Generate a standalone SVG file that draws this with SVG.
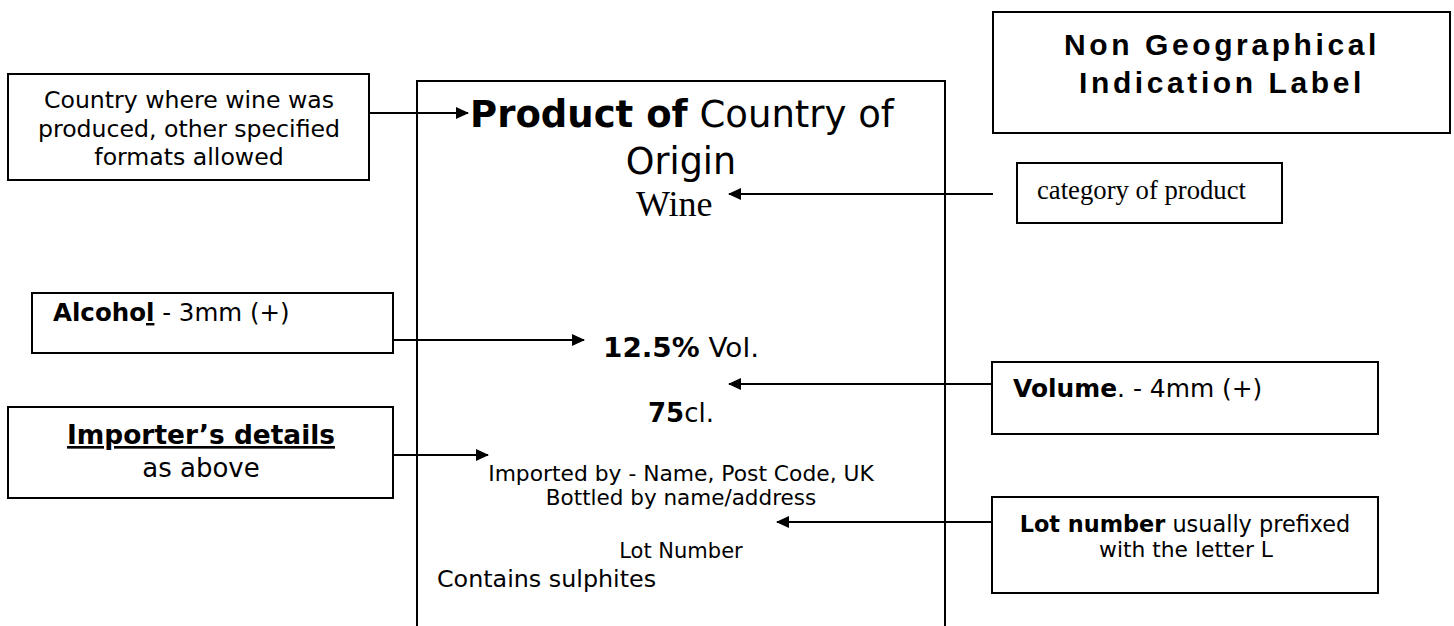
<svg xmlns="http://www.w3.org/2000/svg" width="1454" height="626" viewBox="0 0 1454 626">
<defs>
<marker id="ah" markerUnits="userSpaceOnUse" markerWidth="13" markerHeight="12" refX="12" refY="6" orient="auto">
<path d="M0,0 L13,6 L0,12 z" fill="#000"/>
</marker>
<style>
.box{fill:#fff;stroke:#000;stroke-width:2}
.conn{stroke:#000;stroke-width:2;fill:none;marker-end:url(#ah)}
.v{font-family:"DejaVu Sans",Verdana,sans-serif;fill:#000}
.s{font-family:"Liberation Serif","Times New Roman",serif;fill:#000}
.b{font-weight:bold}
.t{font-family:"Liberation Sans",Arial,sans-serif;font-weight:bold;fill:#000}
</style>
</defs>
<rect width="1454" height="626" fill="#fff"/>

<g id="label">
<path d="M417,640 V81 H945 V640" fill="none" stroke="#000" stroke-width="2"/>
<text class="v" x="682" y="127" font-size="37" text-anchor="middle"><tspan class="b">Product of</tspan> Country of</text>
<text class="v" x="681" y="174" font-size="36.5" text-anchor="middle">Origin</text>
<text class="s" x="636" y="216" font-size="36">Wine</text>
<text class="v" x="603" y="357" font-size="26" textLength="156" lengthAdjust="spacingAndGlyphs"><tspan class="b">12.5%</tspan> Vol.</text>
<text class="v" x="681" y="422" font-size="26" text-anchor="middle"><tspan class="b">75</tspan>cl.</text>
<text class="v" x="681" y="481" font-size="21.8" text-anchor="middle">Imported by - Name, Post Code, UK</text>
<text class="v" x="681" y="505" font-size="21.5" text-anchor="middle">Bottled by name/address</text>
<text class="v" x="681" y="558" font-size="21" text-anchor="middle">Lot Number</text>
<text class="v" x="437" y="587" font-size="23.8">Contains sulphites</text>
</g>

<g id="title">
<rect class="box" x="993" y="12" width="457" height="121"/>
<text class="t" x="1222" y="55" font-size="30" letter-spacing="3.6" text-anchor="middle">Non Geographical</text>
<text class="t" x="1222" y="93" font-size="30" letter-spacing="3.6" text-anchor="middle">Indication Label</text>
</g>

<g id="country">
<rect class="box" x="8" y="74" width="361" height="106"/>
<text class="v" x="189" y="108" font-size="23.6" text-anchor="middle">Country where wine was</text>
<text class="v" x="189" y="137" font-size="23.6" text-anchor="middle">produced, other specified</text>
<text class="v" x="189" y="165" font-size="23.6" text-anchor="middle">formats allowed</text>
</g>

<g id="category">
<rect class="box" x="1017" y="163" width="265" height="60"/>
<text class="s" x="1037" y="199" font-size="26.7">category of product</text>
</g>

<g id="alcohol">
<rect class="box" x="32" y="293" width="361" height="60"/>
<text class="v" x="53" y="321" font-size="24.5"><tspan class="b">Alcoho</tspan><tspan class="b" text-decoration="underline">l</tspan> - 3mm (+)</text>
</g>

<g id="importer">
<rect class="box" x="8" y="407" width="385" height="91"/>
<text class="v b" x="201" y="444" font-size="26.4" text-anchor="middle" text-decoration="underline">Importer’s details</text>
<text class="v" x="201" y="477" font-size="26" text-anchor="middle">as above</text>
</g>

<g id="volume">
<rect class="box" x="992" y="362" width="386" height="72"/>
<text class="v" x="1013" y="397" font-size="24.9"><tspan class="b">Volume</tspan>. - 4mm (+)</text>
</g>

<g id="lot">
<rect class="box" x="992" y="497" width="386" height="96"/>
<text class="v" x="1185" y="532" font-size="22.4" text-anchor="middle"><tspan class="b">Lot number</tspan> usually prefixed</text>
<text class="v" x="1186" y="557" font-size="21.8" text-anchor="middle">with the letter L</text>
</g>

<g id="connectors">
<line class="conn" x1="369" y1="113" x2="468" y2="113"/>
<line class="conn" x1="993" y1="194" x2="729" y2="194"/>
<line class="conn" x1="393" y1="340" x2="584" y2="340"/>
<line class="conn" x1="992" y1="384" x2="729" y2="384"/>
<line class="conn" x1="393" y1="455" x2="488" y2="455"/>
<line class="conn" x1="992" y1="522" x2="777" y2="522"/>
</g>
</svg>
